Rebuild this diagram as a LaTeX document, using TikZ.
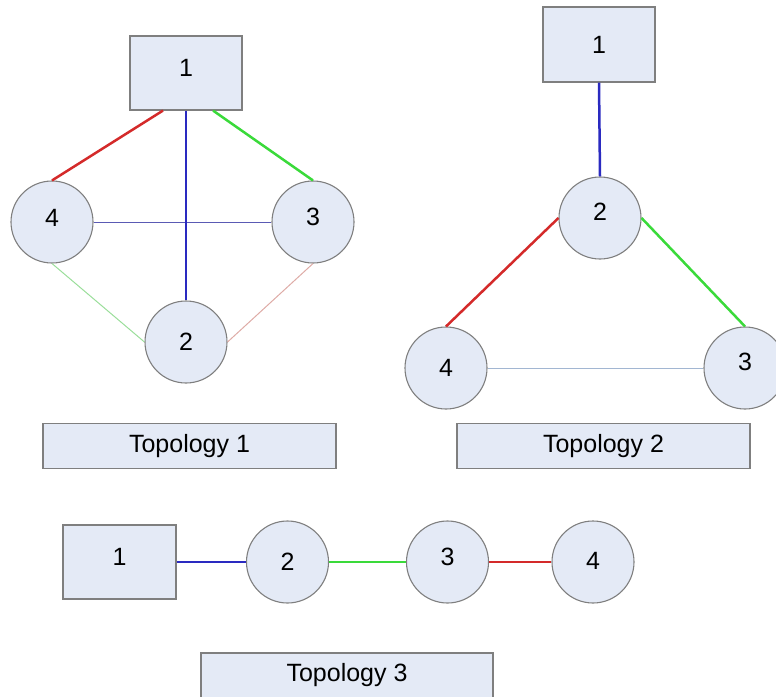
\documentclass[tikz,border=0pt]{standalone}
\usepackage{fontspec}
\setmainfont{Liberation Sans}
\definecolor{nodefill}{HTML}{E4EAF6}
\definecolor{nodeedge}{HTML}{7F7F7F}
\definecolor{linkred}{HTML}{D42A2A}
\definecolor{linkgreen}{HTML}{3ADA3A}
\definecolor{linkblue}{HTML}{2A2AC0}
\definecolor{softblue}{HTML}{5A5AB4}
\definecolor{softgreen}{HTML}{9ADE9A}
\definecolor{softred}{HTML}{DEABA6}
\definecolor{paleblue}{HTML}{A2B6D2}
\tikzset{
  every node/.style={font=\fontsize{25}{29}\selectfont, text=black},
  host/.style={draw=nodeedge, fill=nodefill, line width=1.1pt, rectangle,
    minimum width=112pt, minimum height=74pt, inner sep=0pt},
  router/.style={draw=nodeedge, fill=nodefill, line width=1.1pt, circle,
    minimum size=82pt, inner sep=0pt},
  caption/.style={draw=nodeedge, fill=nodefill, line width=1.1pt, rectangle,
    minimum width=293pt, minimum height=45pt, inner sep=0pt},
  thick link/.style={line width=2.5pt},
  thin link/.style={line width=1pt},
}
\begin{document}
\begin{tikzpicture}[x=1pt, y=-1pt]
\useasboundingbox (0,0) rectangle (776,696);

% ---------- Topology 1 ----------
\node[host, label={[yshift=5pt]center:1}] (a1) at (186,73) {};
\node[router, label={[yshift=4pt]center:4}] (a4) at (52,222) {};
\node[router, label={[yshift=5pt]center:3}] (a3) at (313,222) {};
\node[router, label={center:2}] (a2) at (186,342) {};
\draw[thin link, softblue] (a4.east) -- (a3.west);
\draw[thin link, softgreen] (a4.south) -- (a2.west);
\draw[thin link, softred] (a3.south) -- (a2.east);
\draw[thick link, linkred] ([xshift=-23pt]a1.south) -- (a4.north);
\draw[thick link, linkgreen] ([xshift=27pt]a1.south) -- (a3.north);
\draw[thick link, linkblue] (a1.south) -- (a2.north);
\node[caption] (cap1) at (189.5,446) {Topology 1};

% ---------- Topology 2 ----------
\node[host, minimum height=75pt, label={center:1}] (b1) at (599,44.5) {};
\node[router, label={[yshift=6pt]center:2}] (b2) at (600,218) {};
\node[router, label={center:4}] (b4) at (446,368) {};
\node[router, label={[yshift=6pt]center:3}] (b3) at (745,368) {};
\draw[thin link, paleblue] (b4.east) -- (b3.west);
\draw[thick link, linkblue] (b1.south) -- (b2.north);
\draw[thick link, linkred] (b2.west) -- (b4.north);
\draw[thick link, linkgreen] (b2.east) -- (b3.north);
\node[caption] (cap2) at (603.5,446) {Topology 2};

% ---------- Topology 3 ----------
\node[host, minimum width=113pt, label={[yshift=5pt]center:1}] (c1) at (119.5,562) {};
\node[router, label={center:2}] (c2) at (287.5,562) {};
\node[router, label={[yshift=5pt]center:3}] (c3) at (447.5,562) {};
\node[router, label={[yshift=1pt]center:4}] (c4) at (593,562) {};
\draw[thick link, linkblue] (c1.east) -- (c2.west);
\draw[thick link, linkgreen] (c2.east) -- (c3.west);
\draw[thick link, linkred] (c3.east) -- (c4.west);
\node[caption, minimum width=292pt] (cap3) at (347,675.5) {Topology 3};
\end{tikzpicture}
\end{document}
